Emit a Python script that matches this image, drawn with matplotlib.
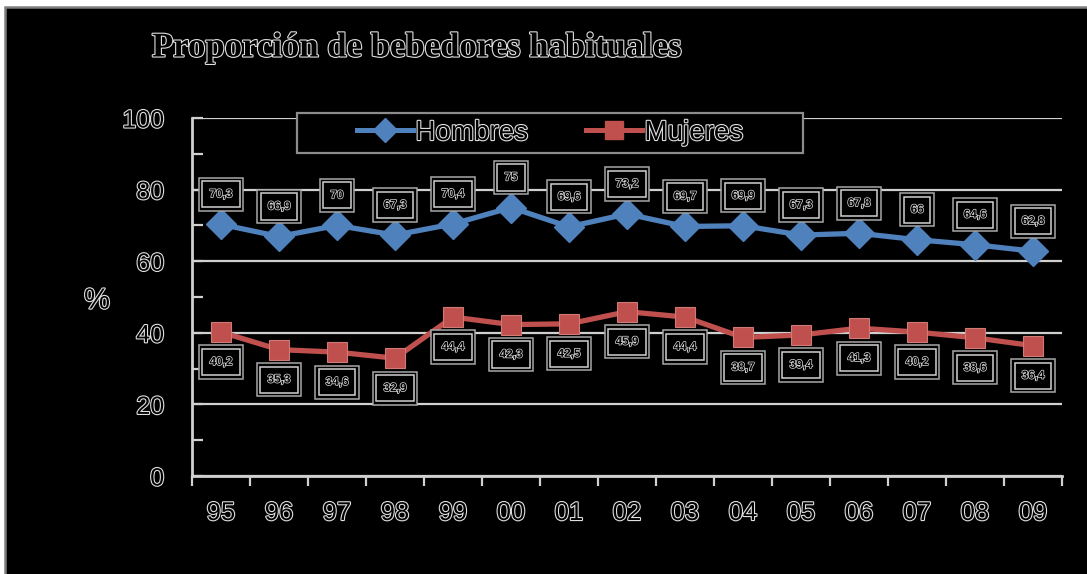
import matplotlib
matplotlib.use("Agg")
import matplotlib.pyplot as plt
import matplotlib.patheffects as pe
from matplotlib.patches import Rectangle
from matplotlib.lines import Line2D
from matplotlib.ticker import MultipleLocator

# Data
years = ["95", "96", "97", "98", "99", "00", "01", "02", "03", "04", "05", "06", "07", "08", "09"]
hombres = [70.3, 66.9, 70.0, 67.3, 70.4, 75.0, 69.6, 73.2, 69.7, 69.9, 67.3, 67.8, 66.0, 64.6, 62.8]
mujeres = [40.2, 35.3, 34.6, 32.9, 44.4, 42.3, 42.5, 45.9, 44.4, 38.7, 39.4, 41.3, 40.2, 38.6, 36.4]
series_names = ["Hombres", "Mujeres"]
title = "Proporción de bebedores habituales"

W, H = 1087, 574
BLUE = "#4F81BD"
RED = "#C0504D"
GRID = "#d0d0d0"
SANS = ["Liberation Sans", "DejaVu Sans"]
NARROW = ["Liberation Sans Narrow", "Liberation Sans", "DejaVu Sans"]

# hollow (outlined) text look
hollow = [pe.Stroke(linewidth=1.6, foreground="#e0e0e0"), pe.Normal()]
hollow_small = [pe.Stroke(linewidth=1.0, foreground="#e0e0e0"), pe.Normal()]

fig = plt.figure(figsize=(W / 100, H / 100), dpi=100, facecolor="white")

# black panel with grey border, white margin at top and left
fig.patches.append(Rectangle((4.5 / W, -0.01), 1.02, 1 - 6.5 / H + 0.01,
                             transform=fig.transFigure, facecolor="black",
                             edgecolor="#7f7f7f", linewidth=1.8, zorder=-2))

ax = fig.add_axes([192 / W, 1 - 476 / H, (1062 - 192) / W, (476 - 118) / H])
ax.set_zorder(1)
ax.set_facecolor("black")
ax.patch.set_alpha(0)

x = list(range(len(years)))
ax.plot(x, hombres, color=BLUE, lw=3.8, marker="D", ms=15,
        markeredgecolor=BLUE, zorder=4, solid_joinstyle="round")
ax.plot(x, mujeres, color=RED, lw=3.8, marker="s", ms=15,
        markeredgecolor="#d07a78", markeredgewidth=0.8, zorder=4)

ax.set_xlim(-0.5, len(years) - 0.5)
ax.set_ylim(0, 100)

for s in ["top", "right"]:
    ax.spines[s].set_visible(False)
for s in ["left", "bottom"]:
    ax.spines[s].set_color(GRID)
    ax.spines[s].set_linewidth(2)

ax.yaxis.set_major_locator(MultipleLocator(20))
ax.yaxis.set_minor_locator(MultipleLocator(10))
ax.grid(axis="y", which="major", color=GRID, lw=1.6, zorder=1)
ax.set_axisbelow(True)
ax.tick_params(axis="y", which="both", direction="in", length=8, width=1.6,
               color=GRID, pad=20, labelsize=18, labelcolor="black")
ax.set_xticks(x)
ax.set_xticklabels(years)
ax.set_xticks([i - 0.5 for i in range(len(years) + 1)], minor=True)
ax.tick_params(axis="x", which="major", length=0, pad=18, labelsize=18.5,
               labelcolor="black")
ax.tick_params(axis="x", which="minor", direction="out", length=7, width=1.6,
               color=GRID)
for lab in ax.get_xticklabels() + ax.get_yticklabels():
    lab.set_family(SANS)
    lab.set_path_effects(hollow)

ax.set_ylabel("%", rotation=0, fontsize=21, family=SANS, color="black",
              path_effects=hollow, va="center", ha="center")
ax.yaxis.set_label_coords(-95 / 870, 0.49)

# value labels in double-bordered boxes
def value_label(i, v, dy):
    txt = f"{v:.1f}".replace(".", ",").replace(",0", "")
    common = dict(xy=(i, v), xytext=(0, dy), textcoords="offset pixels",
                  ha="center", va="center", fontsize=8.5, family=NARROW,
                  fontweight="bold", annotation_clip=False)
    ax.annotate(txt, color="none", zorder=5,
                bbox=dict(boxstyle="square,pad=0.9", facecolor="black",
                          edgecolor="#a8a8a8", linewidth=1.1), **common)
    ax.annotate(txt, color="black", zorder=6, path_effects=hollow_small,
                bbox=dict(boxstyle="square,pad=0.6", facecolor="none",
                          edgecolor="#d0d0d0", linewidth=1.1), **common)

for i, v in enumerate(hombres):
    value_label(i, v, 30)
for i, v in enumerate(mujeres):
    value_label(i, v, -30)

# legend box
fig.patches.append(Rectangle((297 / W, 1 - 153 / H), (803 - 297) / W, 40 / H,
                             transform=fig.transFigure, facecolor="black",
                             edgecolor="#8c8c8c", linewidth=1.6, zorder=3))
handles = [Line2D([], [], color=BLUE, lw=3.6, marker="D", ms=12),
           Line2D([], [], color=RED, lw=3.6, marker="s", ms=13)]
leg = fig.legend(handles, series_names, loc="center", ncol=2,
                 bbox_to_anchor=(550 / W, 1 - 133 / H), frameon=False,
                 prop=dict(family=SANS, size=20), handlelength=2.0,
                 handletextpad=0.1, columnspacing=2.1)
leg.set_zorder(4)
for t in leg.get_texts():
    t.set_color("black")
    t.set_path_effects(hollow)

fig.text(152 / W, 1 - 48 / H, title, ha="left", va="center", fontsize=25,
         family=["Liberation Serif", "DejaVu Serif"], fontweight="bold",
         color="black", path_effects=hollow)

fig.savefig("out.png", dpi=100, facecolor=fig.get_facecolor())
